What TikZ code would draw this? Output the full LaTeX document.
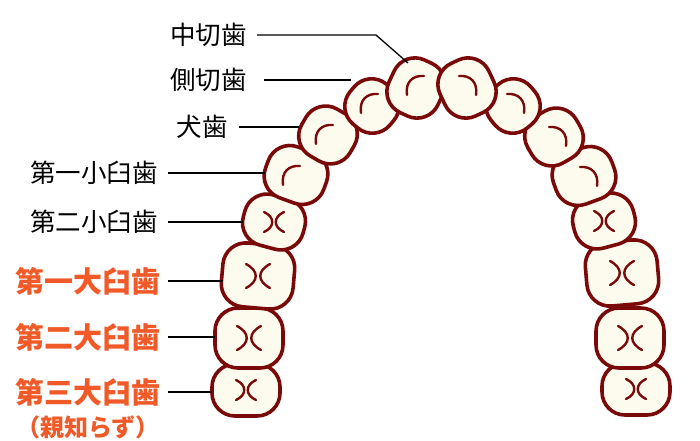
\documentclass[tikz,border=0pt]{standalone}
\usepackage{fontspec}
\setmainfont{Noto Sans CJK JP}
\definecolor{toothline}{HTML}{7A0A0A}
\definecolor{toothfill}{HTML}{FDFBEE}
\definecolor{orng}{HTML}{F05A28}
\tikzset{
 tooth/.style={draw=toothline,fill=toothfill,line width=3.6pt,rounded corners=23pt,inner sep=0pt},
 tmark/.style={draw=toothline,line width=2.4pt,line cap=round},
 lbl/.style={anchor=east,inner sep=0pt,font=\fontsize{25.5}{28}\selectfont},
 olbl/.style={anchor=east,inner sep=0pt,text=orng,font=\fontsize{29}{32}\selectfont\bfseries},
 lead/.style={line width=1.3pt}
}
\newcommand\tth[6]{\node[tooth,minimum width=#3pt,minimum height=#4pt,rotate=#5] (#6) at (#1,#2) {};}
\newcommand\arcL[2]{\draw[tmark] (#1-9,#2+9) .. controls (#1-11,#2-4) and (#1-3,#2-11) .. (#1+8,#2-10);}
\newcommand\arcR[2]{\draw[tmark] (#1+9,#2+9) .. controls (#1+11,#2-4) and (#1+3,#2-11) .. (#1-8,#2-10);}
\newcommand\xm[3]{\draw[tmark] (#1-#3,#2-#3) .. controls (#1+1,#2-5) and (#1+1,#2+5) .. (#1-#3,#2+#3);
 \draw[tmark] (#1+#3,#2-#3) .. controls (#1-1,#2-5) and (#1-1,#2+5) .. (#1+#3,#2+#3);}
\begin{document}
\begin{tikzpicture}[x=1pt,y=-1pt]
\useasboundingbox[fill=white] (0,0) rectangle (700,440);
% left side
\tth{246}{390}{68}{52}{0}{m3l}\xm{246}{390}{10}
\tth{249}{338}{68}{60}{0}{m2l}\xm{249}{338}{12}
\tth{258}{276}{72}{64}{-5}{m1l}\xm{258}{276}{12}
\tth{274}{222}{62}{52}{-15}{p2l}\xm{274}{222}{10}
\tth{296}{175}{62}{54}{-20}{p1l}\arcL{292}{176}
\tth{328}{135}{56}{54}{-30}{cl}\arcL{325}{135}
\tth{372}{106}{52}{52}{-40}{ll}\arcL{370}{104}
\tth{416}{88}{54}{58}{-25}{il}\arcL{416}{86}
% right side
\tth{636}{389}{68}{52}{0}{m3r}\xm{636}{389}{10}
\tth{630}{338}{68}{60}{0}{m2r}\xm{630}{338}{12}
\tth{622}{273}{72}{64}{5}{m1r}\xm{622}{273}{12}
\tth{604}{221}{62}{52}{15}{p2r}\xm{604}{221}{10}
\tth{584}{176}{62}{54}{20}{p1r}\arcR{588}{177}
\tth{554}{137}{56}{54}{30}{cr}\arcR{557}{137}
\tth{513}{106}{52}{52}{40}{lr}\arcR{515}{104}
\tth{467}{88}{54}{58}{25}{ir}\arcR{467}{86}
% labels
\node[lbl] (t1) at (247,35) {中切歯};
\node[lbl] (t2) at (247,80) {側切歯};
\node[lbl] (t3) at (228,127) {犬歯};
\node[lbl] (t4) at (158,173) {第一小臼歯};
\node[lbl] (t5) at (158,222) {第二小臼歯};
\node[olbl] (t6) at (161,281) {第一大臼歯};
\node[olbl] (t7) at (161,337) {第二大臼歯};
\node[olbl] (t8) at (161,392) {第三大臼歯};
\node[anchor=center,text=orng,font=\fontsize{24}{26}\selectfont\bfseries] (t9) at (88,427) {（親知らず）};
\coordinate (k1) at (376,35);
\draw[lead] (t1.east) ++(10,0) -- (k1) -- (408,63);
\draw[lead] (t2.east) ++(17,0) -- (351,80);
\draw[lead] (t3.east) ++(11,0) -- (299,127);
\draw[lead] (t4.east) ++(10,0) -- (265,173);
\draw[lead] (t5.east) ++(10,0) -- (243,222);
\draw[lead] (t6.east) ++(7,0) -- (223,281);
\draw[lead] (t7.east) ++(7,0) -- (215,337);
\draw[lead] (t8.east) ++(7,0) -- (212,392);
\end{tikzpicture}
\end{document}
